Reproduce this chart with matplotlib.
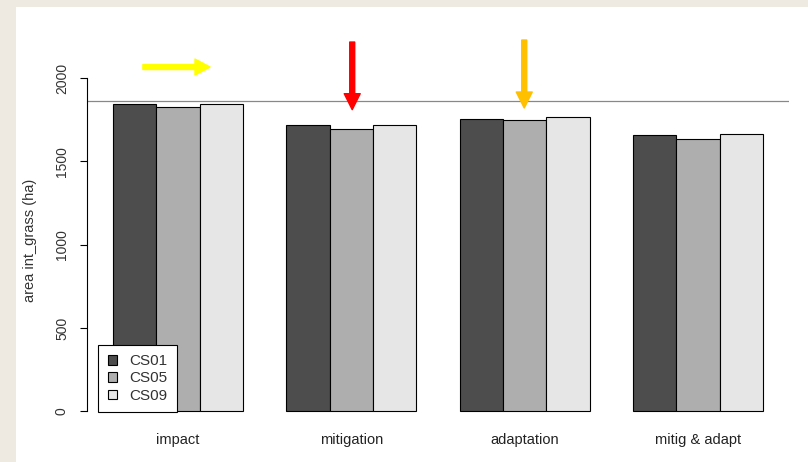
# coding: utf-8
import numpy as np
import matplotlib.pyplot as plt

# values
scenarios = ['impact', 'mitigation', 'adaptation', 'mitig & adapt']
series = ['CS01', 'CS05', 'CS09']
cs01 = [1844, 1718, 1754, 1658]
cs05 = [1826, 1694, 1748, 1634]
cs09 = [1844, 1718, 1766, 1664]
reference_level = 1860
yticks = [0, 500, 1000, 1500, 2000]

colors = ['#4D4D4D', '#AEAEAE', '#E6E6E6']


def show_plot() -> None:
    """grouped barplot in the style of R barplot(beside=TRUE)"""
    plt.rcParams['font.family'] = ['Liberation Sans', 'DejaVu Sans']

    fig = plt.figure(figsize=(8.08, 4.62), dpi=100, facecolor='#EEE9E1')
    # white panel over the beige background
    fig.patches.append(plt.Rectangle((16 / 808, 0), 1, (462 - 7) / 462,
                                     transform=fig.transFigure,
                                     facecolor='white', edgecolor='none', zorder=-10))

    ax = fig.add_axes([0.1077, 0.0816, 0.8688, 0.7964])
    ax.set_facecolor('none')

    n = len(series)
    values = [cs01, cs05, cs09]
    for j in range(n):
        lefts = np.arange(len(scenarios)) * (n + 1) + 1 + j
        ax.bar(lefts, values[j], width=1, align='edge', color=colors[j],
               edgecolor='black', linewidth=0.8, label=series[j])

    centers = np.arange(len(scenarios)) * (n + 1) + 1 + n / 2
    ax.axhline(reference_level, color='#888888', linewidth=0.9)

    ax.set_xlim(0.4, 16.6)
    ax.set_ylim(-78, 2130)

    ax.set_xticks(centers)
    ax.set_xticklabels(scenarios, fontsize=10.5, color='#222222')
    ax.tick_params(axis='x', length=0, pad=6)

    ax.set_yticks(yticks)
    ax.set_yticklabels([str(v) for v in yticks], rotation=90, va='center',
                       fontsize=10, color='#333333')
    ax.tick_params(axis='y', length=5, width=0.8, pad=8)
    ax.set_ylabel('area int_grass (ha)', fontsize=10.5, color='#333333', labelpad=13)

    for side in ['top', 'right', 'bottom']:
        ax.spines[side].set_visible(False)
    ax.spines['left'].set_bounds(0, 2000)
    ax.spines['left'].set_linewidth(0.8)

    # arrows drawn over the chart
    style_h = 'simple,head_length=0.68,head_width=0.72,tail_width=0.225'
    style_v = 'simple,head_length=0.72,head_width=0.72,tail_width=0.225'
    ax.annotate('', xy=(centers[0] + 0.74, 2066), xytext=(centers[0] - 0.81, 2066),
                arrowprops=dict(arrowstyle=style_h, color='#FFFF00',
                                mutation_scale=16, shrinkA=0, shrinkB=0),
                annotation_clip=False)
    ax.annotate('', xy=(centers[1] + 0.02, 1810), xytext=(centers[1] + 0.02, 2216),
                arrowprops=dict(arrowstyle=style_v, color='#FF0000',
                                mutation_scale=16, shrinkA=0, shrinkB=0),
                annotation_clip=False)
    ax.annotate('', xy=(centers[2] - 0.01, 1820), xytext=(centers[2] - 0.01, 2228),
                arrowprops=dict(arrowstyle=style_v, color='#FFC000',
                                mutation_scale=16, shrinkA=0, shrinkB=0),
                annotation_clip=False)

    leg = ax.legend(loc='lower left', bbox_to_anchor=(0.0157, 0.0334), fontsize=11,
                    fancybox=False, edgecolor='black', framealpha=1,
                    borderaxespad=0, handlelength=0.65, handleheight=0.55,
                    handletextpad=0.75, labelspacing=0.2, borderpad=0.62)
    leg.get_frame().set_linewidth(0.8)
    for t in leg.get_texts():
        t.set_color('#333333')

    fig.savefig('out.png', dpi=100, facecolor=fig.get_facecolor())


if __name__ == '__main__':
    show_plot()
